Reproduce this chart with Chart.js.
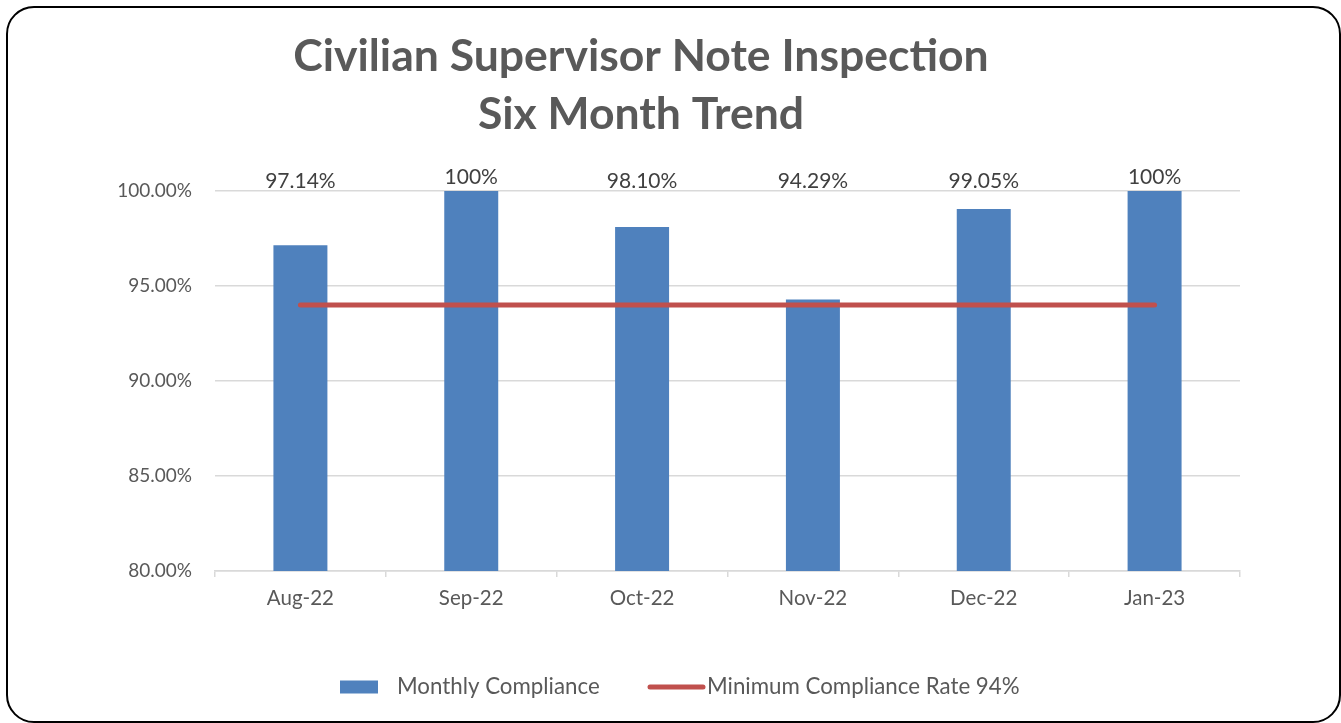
<!DOCTYPE html>
<html>
<head>
<meta charset="utf-8">
<script src="https://cdn.jsdelivr.net/npm/chart.js@4"></script>
<style>
    html, body { margin: 0; padding: 0; background: #fff; }
    #wrap { position: relative; width: 1341px; height: 723px; overflow: hidden; }
    #frame {
        position: absolute; left: 6px; top: 6px; width: 1335px; height: 717px;
        box-sizing: border-box; border: 2px solid #000; border-radius: 28px;
    }
    #chart { position: absolute; left: 0; top: 0; }
</style>
</head>
<body>
<div id="wrap">
    <div id="frame"></div>
    <canvas id="chart" width="1341" height="723"></canvas>
</div>
<script>
// Data
const categories = ['Aug-22', 'Sep-22', 'Oct-22', 'Nov-22', 'Dec-22', 'Jan-23'];
const monthlyCompliance = [97.14, 100, 98.10, 94.29, 99.05, 100];
const minimumRate = [94, 94, 94, 94, 94, 94];
const seriesNames = ['Monthly Compliance', 'Minimum Compliance Rate 94%'];
const titleLines = ['Civilian Supervisor Note Inspection', 'Six Month Trend'];
const yMin = 80;
const yMax = 100;
const yStep = 5;

const FONT = 'Lato, "Open Sans", sans-serif';
const BLUE = '#4F81BD';
const RED = '#C0504D';

function formatValue(v) {
    return v === 100 ? '100%' : v.toFixed(2) + '%';
}

// Title + data labels + legend drawn on top of the chart
const decorations = {
    id: 'decorations',
    afterDatasetsDraw(chart) {
        const ctx = chart.ctx;
        const area = chart.chartArea;
        const meta = chart.getDatasetMeta(1);

        ctx.save();

        // title
        ctx.fillStyle = '#595959';
        ctx.font = 'bold 44.5px ' + FONT;
        ctx.textAlign = 'center';
        ctx.textBaseline = 'middle';
        titleLines.forEach((line, i) => {
            ctx.fillText(line, 641, 57 + i * 58);
        });

        // data labels above the plot
        ctx.fillStyle = '#404040';
        ctx.font = '21px ' + FONT;
        meta.data.forEach((bar, i) => {
            const v = monthlyCompliance[i];
            const y = v === 100 ? area.top - 14 : area.top - 10;
            ctx.fillText(formatValue(v), bar.x, y);
        });

        // legend
        const ly = 687;
        ctx.font = '22.3px ' + FONT;
        ctx.textAlign = 'left';
        ctx.fillStyle = BLUE;
        ctx.fillRect(340, ly - 6.5, 38, 13);
        ctx.fillStyle = '#595959';
        ctx.fillText(seriesNames[0], 397, ly);

        ctx.strokeStyle = RED;
        ctx.lineWidth = 5;
        ctx.lineCap = 'round';
        ctx.beginPath();
        ctx.moveTo(650, ly);
        ctx.lineTo(703, ly);
        ctx.stroke();
        ctx.fillStyle = '#595959';
        ctx.fillText(seriesNames[1], 707, ly);

        ctx.restore();
    }
};

const ctx = document.getElementById('chart').getContext('2d');
new Chart(ctx, {
    data: {
        labels: categories,
        datasets: [
            {
                type: 'line',
                label: seriesNames[1],
                data: minimumRate,
                borderColor: RED,
                borderWidth: 5,
                borderCapStyle: 'round',
                pointRadius: 0,
                fill: false,
                order: 0
            },
            {
                type: 'bar',
                label: seriesNames[0],
                data: monthlyCompliance,
                backgroundColor: BLUE,
                borderWidth: 0,
                categoryPercentage: 1,
                barPercentage: 0.316,
                order: 1
            }
        ]
    },
    plugins: [decorations],
    options: {
        responsive: false,
        animation: false,
        layout: { padding: { left: 0, right: 101, top: 191, bottom: 102 } },
        plugins: {
            legend: { display: false },
            title: { display: false },
            tooltip: { enabled: false }
        },
        scales: {
            x: {
                offset: true,
                grid: {
                    offset: true,
                    drawOnChartArea: false,
                    drawTicks: true,
                    tickLength: 6,
                    color: '#D9D9D9',
                    lineWidth: 1.5
                },
                border: { color: '#D9D9D9', width: 1.5 },
                ticks: {
                    color: '#595959',
                    font: { family: FONT, size: 20.5 },
                    padding: 9
                },
                afterFit(scale) { scale.height = 50; }
            },
            y: {
                min: yMin,
                max: yMax,
                ticks: {
                    stepSize: yStep,
                    color: '#595959',
                    font: { family: FONT, size: 19 },
                    padding: 23,
                    callback: v => v.toFixed(2) + '%'
                },
                grid: { color: '#D9D9D9', lineWidth: 1.5, drawTicks: false },
                border: { display: false },
                afterFit(scale) { scale.width = 215; }
            }
        }
    }
});
</script>
</body>
</html>
